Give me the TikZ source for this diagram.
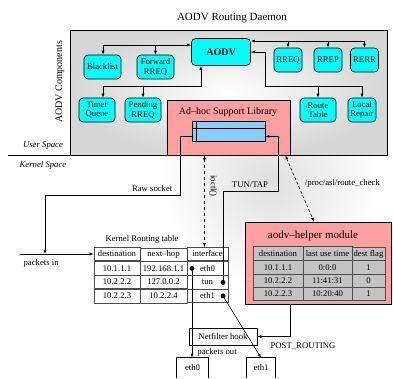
\documentclass[tikz,border=0pt]{standalone}
\usepackage{fontspec}
\setmainfont{Liberation Serif}
\usetikzlibrary{arrows.meta,matrix,positioning}

\definecolor{aodvcyan}{RGB}{0,255,255}
\definecolor{libpink}{RGB}{255,160,160}
\definecolor{bufblue}{RGB}{135,206,250}
\definecolor{tblgray}{RGB}{195,195,195}

\begin{document}
\begin{tikzpicture}[x=1pt,y=-1pt,line width=0.6pt,
  font=\fontsize{8.7}{9.5}\selectfont,
  comp/.style={draw, fill=aodvcyan, rounded corners=4pt, align=center, inner sep=1pt, minimum height=24},
  lnk/.style={-{Latex[length=4pt,width=3pt]}},
  dbl/.style={dashed, {Latex[length=4pt,width=3pt]}-{Latex[length=4pt,width=3pt]}},
  pinkbox/.style={draw, fill=libpink},
  cell/.style={draw=black!70, fill=white, minimum height=13.5, inner sep=0pt},
  hcell/.style={draw=black!70, fill=tblgray, minimum height=13.2, inner sep=0pt},
  portbox/.style={draw, minimum height=17, inner sep=1pt},
  ifdot/.style={circle, fill=black, inner sep=0pt, minimum size=5},
  spacelbl/.style={font=\fontsize{8.7}{9.5}\selectfont\itshape}]
\useasboundingbox (0,0) rectangle (393,378);
\shade[inner color=gray!25, outer color=white] (270,180) circle (110);

% daemon
\node[font=\fontsize{11}{12}\selectfont] (title) at (232,18) {AODV Routing Daemon};
\shadedraw[inner color=white, outer color=gray!32] (70,30) rectangle (387,155);
\node[rotate=90, font=\fontsize{10}{11}\selectfont] (comps) at (60,82) {AODV Components};

\node[comp, minimum width=37] (blist) at (102.5,67) {Blacklist};
\node[comp, minimum width=37] (fwd) at (155.5,67) {Forward\\RREQ};
\node[comp, minimum width=59, minimum height=27, font=\fontsize{10}{11}\selectfont\bfseries] (aodv) at (221,52) {AODV};
\node[comp, minimum width=28] (rreq) at (288,60) {RREQ};
\node[comp, minimum width=28] (rrep) at (328,60) {RREP};
\node[comp, minimum width=28] (rerr) at (364.5,60) {RERR};
\node[comp, minimum width=36] (timer) at (97,110) {Timer\\Queue};
\node[comp, minimum width=36] (pend) at (143,110) {Pending\\RREQ};
\node[comp, minimum width=36] (route) at (318,110) {Route\\Table};
\node[comp, minimum width=28] (repair) at (362,110) {Local\\Repair};

\coordinate (busL) at (103,45);
\draw[lnk] (busL) -- (busL -| aodv.west);
\draw[lnk] (busL) -- (busL |- blist.north);
\draw[lnk] (busL -| fwd.north) -- (fwd.north);

\coordinate (busR) at (364.5,41);
\draw[lnk] (busR) -- (busR -| aodv.east);
\draw[lnk] (busR) -- (rerr.north);
\draw[lnk] (busR -| rreq.north) -- (rreq.north);
\draw[lnk] (busR -| rrep.north) -- (rrep.north);

\coordinate (busT) at (265,86);
\draw[lnk] (busT -| repair.north) -- (busT) |- (aodv.east);
\draw[lnk] (busT -| repair.north) -- (repair.north);
\draw[lnk] (busT -| route.north) -- (route.north);

\coordinate (busB) at (103,86);
\coordinate (aodvS) at ([xshift=-20pt]aodv.south);
\draw[lnk] (busB) -| (aodvS);
\draw[lnk] (busB) -- (busB |- timer.north);
\draw[lnk] (busB -| pend.north) -- (pend.north);

% user / kernel
\node[spacelbl] (usr) at (43,146) {User Space};
\node[spacelbl] (krn) at (43,165) {Kernel Space};
\draw (8,155) -- (388,155);

\node[pinkbox, minimum width=123, minimum height=55] (lib) at (228.5,127.5) {};
\node[font=\fontsize{10}{11}\selectfont] (libname) at (228,112) {Ad--hoc Support Library};
\node[draw, fill=bufblue, minimum width=73, minimum height=20, inner sep=0pt] (buf) at (228.5,131) {};
\draw ([yshift=-8pt]buf.north west) -- ([yshift=-8pt]buf.north east);
\draw ([xshift=5pt]buf.north west) -- ([xshift=5pt]buf.south west);

% kernel routing table
\matrix (krt) [matrix of nodes, nodes={cell}, inner sep=0pt, outer sep=0pt,
  column sep=-0.6pt, row sep=-0.6pt,
  column 1/.style={nodes={minimum width=46}},
  column 2/.style={nodes={minimum width=47}},
  column 3/.style={nodes={minimum width=41}}] at (161,275) {
destination & next--hop & interface\\
10.1.1.1 & 192.168.1.1 & eth0\\
10.2.2.2 & 127.0.0.2 & tun\\
10.2.2.3 & 10.2.2.4 & eth1\\
};
\node[anchor=south] (krtname) at ([xshift=-19pt]krt.north) {Kernel Routing table};

\node[ifdot] (e0dot) at ([xshift=5pt]krt-2-3.west) {};
\node[ifdot] (tundot) at ([xshift=-5pt]krt-3-3.east) {};
\node[ifdot] (e1dot) at ([xshift=-5pt]krt-4-3.east) {};

% raw socket, packets in
\coordinate (rawc) at (180,195);
\coordinate (pktin) at (20,254);
\coordinate (rawin) at (45,254);
\draw[lnk] ([yshift=5pt]buf.south west) -| (rawc) -| (rawin);
\node[anchor=south east] (rawlbl) at ([xshift=-4pt]rawc) {Raw socket};
\draw[lnk] (pktin) -- (pktin -| krt.west);
\node[anchor=north west] (pinlbl) at ([yshift=-2pt]pktin) {packets in};

% ioctl
\coordinate (ioB) at ([xshift=-3pt]krt-1-3.north);
\draw[dbl] (ioB |- lib.south) -- (ioB);
\node[rotate=-90] (ioctl) at (213,186) {ioctl()};

% tun/tap
\coordinate (tunc) at (278,191);
\draw[lnk] (tundot) |- (tunc) |- ([yshift=5pt]buf.south east);
\node[anchor=south] (tunlbl) at (250,191) {TUN/TAP};

% helper module
\node[pinkbox, minimum width=146, minimum height=82] (helper) at (318,263) {};
\node[font=\fontsize{11}{12}\selectfont] (hlpname) at (313,236) {aodv--helper module};
\matrix (hlp) [matrix of nodes, nodes={hcell}, inner sep=0pt, outer sep=0pt,
  column sep=-0.6pt, row sep=-0.6pt,
  column 1/.style={nodes={minimum width=50}},
  column 2/.style={nodes={minimum width=49}},
  column 3/.style={nodes={minimum width=33}}] at (319,273.5) {
destination & last use time & dest flag\\
10.1.1.1 & 0:0:0 & 1\\
10.2.2.2 & 11:41:31 & 0\\
10.2.2.3 & 10:20:40 & 1\\
};
\draw[dbl, densely dashed] ([xshift=-5pt]lib.south east) -- ([xshift=-4pt]helper.north)
  node[pos=0.42, right=4pt] {/proc/asl/route\_check};

% netfilter and devices
\node[portbox, minimum width=68] (nf) at (223,336.5) {Netfilter hook};
\draw[lnk] ([xshift=-28pt]helper.south) |- (nf.east);
\node (postlbl) at (303,346) {POST\_ROUTING};

\node[minimum width=31, minimum height=20, inner sep=0pt] (e0) at (192.5,368) {eth0};
\draw (e0.south west) |- (e0.north east) -- (e0.south east);
\node[minimum width=28, minimum height=20, inner sep=0pt] (e1) at (261,368) {eth1};
\draw (e1.south west) |- (e1.north east) -- (e1.south east);

\draw[lnk] (e0dot) -- (e0dot |- e0.north);
\draw[lnk] (e1dot) -- (e1.north);
\node (pktout) at (217,352) {packets out};
\end{tikzpicture}
\end{document}
